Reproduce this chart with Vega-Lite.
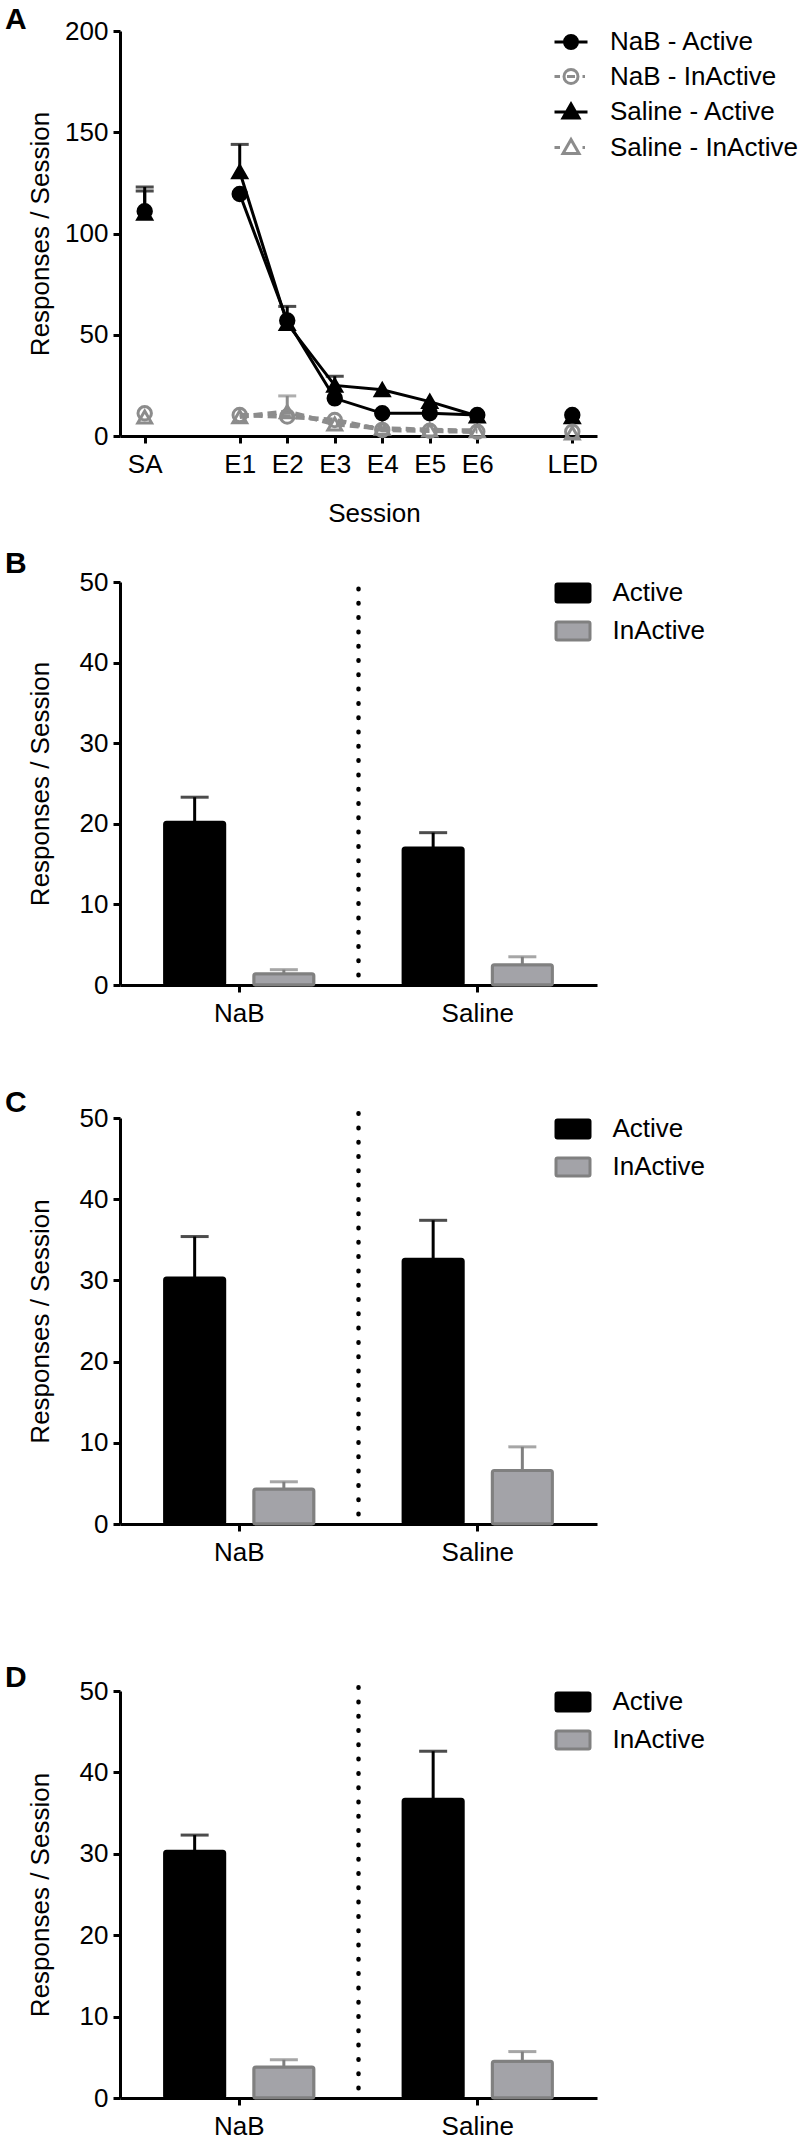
{
  "$schema": "https://vega.github.io/schema/vega-lite/v6.json",
  "padding": {"left": 5, "top": 5, "right": 0, "bottom": 0},
  "spacing": 23,
  "datasets": {
    "a": [
      {"session": "SA", "group": "NaB", "type": "InActive", "series": "NaB - InActive", "value": 11.2, "hi": null},
      {"session": "E1", "group": "NaB", "type": "InActive", "series": "NaB - InActive", "value": 10.4, "hi": null},
      {"session": "E2", "group": "NaB", "type": "InActive", "series": "NaB - InActive", "value": 9.6, "hi": null},
      {"session": "E3", "group": "NaB", "type": "InActive", "series": "NaB - InActive", "value": 7.9, "hi": null},
      {"session": "E4", "group": "NaB", "type": "InActive", "series": "NaB - InActive", "value": 3.0, "hi": null},
      {"session": "E5", "group": "NaB", "type": "InActive", "series": "NaB - InActive", "value": 2.6, "hi": null},
      {"session": "E6", "group": "NaB", "type": "InActive", "series": "NaB - InActive", "value": 2.1, "hi": null},
      {"session": "LED", "group": "NaB", "type": "InActive", "series": "NaB - InActive", "value": 2.1, "hi": null},
      {"session": "SA", "group": "Saline", "type": "InActive", "series": "Saline - InActive", "value": 9.4, "hi": null},
      {"session": "E1", "group": "Saline", "type": "InActive", "series": "Saline - InActive", "value": 9.5, "hi": null},
      {"session": "E2", "group": "Saline", "type": "InActive", "series": "Saline - InActive", "value": 12.0, "hi": 19.8},
      {"session": "E3", "group": "Saline", "type": "InActive", "series": "Saline - InActive", "value": 5.9, "hi": null},
      {"session": "E4", "group": "Saline", "type": "InActive", "series": "Saline - InActive", "value": 3.8, "hi": null},
      {"session": "E5", "group": "Saline", "type": "InActive", "series": "Saline - InActive", "value": 3.0, "hi": null},
      {"session": "E6", "group": "Saline", "type": "InActive", "series": "Saline - InActive", "value": 2.6, "hi": null},
      {"session": "LED", "group": "Saline", "type": "InActive", "series": "Saline - InActive", "value": 1.5, "hi": null},
      {"session": "SA", "group": "NaB", "type": "Active", "series": "NaB - Active", "value": 111, "hi": 123},
      {"session": "E1", "group": "NaB", "type": "Active", "series": "NaB - Active", "value": 119.5, "hi": null},
      {"session": "E2", "group": "NaB", "type": "Active", "series": "NaB - Active", "value": 57, "hi": null},
      {"session": "E3", "group": "NaB", "type": "Active", "series": "NaB - Active", "value": 18.6, "hi": null},
      {"session": "E4", "group": "NaB", "type": "Active", "series": "NaB - Active", "value": 11.2, "hi": null},
      {"session": "E5", "group": "NaB", "type": "Active", "series": "NaB - Active", "value": 11.2, "hi": null},
      {"session": "E6", "group": "NaB", "type": "Active", "series": "NaB - Active", "value": 10.4, "hi": null},
      {"session": "LED", "group": "NaB", "type": "Active", "series": "NaB - Active", "value": 10.4, "hi": null},
      {"session": "SA", "group": "Saline", "type": "Active", "series": "Saline - Active", "value": 110, "hi": 121},
      {"session": "E1", "group": "Saline", "type": "Active", "series": "Saline - Active", "value": 130.5, "hi": 144},
      {"session": "E2", "group": "Saline", "type": "Active", "series": "Saline - Active", "value": 55.5, "hi": 64},
      {"session": "E3", "group": "Saline", "type": "Active", "series": "Saline - Active", "value": 25, "hi": 29.5},
      {"session": "E4", "group": "Saline", "type": "Active", "series": "Saline - Active", "value": 22.8, "hi": null},
      {"session": "E5", "group": "Saline", "type": "Active", "series": "Saline - Active", "value": 17, "hi": null},
      {"session": "E6", "group": "Saline", "type": "Active", "series": "Saline - Active", "value": 9.9, "hi": null},
      {"session": "LED", "group": "Saline", "type": "Active", "series": "Saline - Active", "value": 9.5, "hi": null}
    ],
    "b": [
      {"group": "NaB", "type": "Active", "value": 20.2, "hi": 23.3},
      {"group": "NaB", "type": "InActive", "value": 1.4, "hi": 1.9},
      {"group": "Saline", "type": "Active", "value": 17.0, "hi": 18.9},
      {"group": "Saline", "type": "InActive", "value": 2.5, "hi": 3.5}
    ],
    "c": [
      {"group": "NaB", "type": "Active", "value": 30.3, "hi": 35.4},
      {"group": "NaB", "type": "InActive", "value": 4.3, "hi": 5.2},
      {"group": "Saline", "type": "Active", "value": 32.6, "hi": 37.4},
      {"group": "Saline", "type": "InActive", "value": 6.6, "hi": 9.5}
    ],
    "d": [
      {"group": "NaB", "type": "Active", "value": 30.3, "hi": 32.3},
      {"group": "NaB", "type": "InActive", "value": 3.8, "hi": 4.7},
      {"group": "Saline", "type": "Active", "value": 36.7, "hi": 42.6},
      {"group": "Saline", "type": "InActive", "value": 4.5, "hi": 5.7}
    ]
  },
  "vconcat": [
    {
      "title": {"text": "A", "offset": -17, "dx": -115},
      "width": 477,
      "height": 405,
      "data": {"name": "a"},
      "encoding": {
        "x": {
          "field": "session", "type": "ordinal",
          "scale": {"type": "point", "domain": ["SA", "gap1", "E1", "E2", "E3", "E4", "E5", "E6", "gap2", "LED"], "padding": 0.52},
          "axis": {"title": "Session", "titleX": 254, "titlePadding": 23, "values": ["SA", "E1", "E2", "E3", "E4", "E5", "E6", "LED"], "labelAngle": 0}
        },
        "y": {
          "field": "value", "type": "quantitative", "title": "Responses / Session",
          "scale": {"domain": [0, 200], "nice": false},
          "axis": {"values": [0, 50, 100, 150, 200], "titleX": -72, "titleBaseline": "alphabetic", "labelFlush": false}
        }
      },
      "layer": [
        {
          "transform": [{"filter": {"field": "session", "oneOf": ["E1", "E2", "E3", "E4", "E5", "E6"]}}, {"filter": "datum.type === 'InActive'"}],
          "mark": {"type": "line", "stroke": "#8c8c8c", "strokeWidth": 4.5, "strokeDash": [9, 5]},
          "encoding": {"detail": {"field": "group", "type": "nominal"}}
        },
        {
          "transform": [{"filter": {"field": "session", "oneOf": ["E1", "E2", "E3", "E4", "E5", "E6"]}}, {"filter": "datum.type === 'Active'"}],
          "mark": {"type": "line", "stroke": "black", "strokeWidth": 3},
          "encoding": {"detail": {"field": "group", "type": "nominal"}}
        },
        {
          "transform": [{"filter": "isValid(datum.hi)"}],
          "mark": {"type": "rule", "strokeWidth": 3},
          "encoding": {
            "y2": {"field": "hi"},
            "stroke": {"condition": {"test": "datum.type === 'Active'", "value": "black"}, "value": "#8c8c8c"}
          }
        },
        {
          "transform": [{"filter": "isValid(datum.hi)"}],
          "mark": {"type": "tick", "orient": "horizontal", "size": 18, "thickness": 3},
          "encoding": {
            "y": {"field": "hi", "type": "quantitative", "title": "Responses / Session"},
            "color": {"condition": {"test": "datum.type === 'Active'", "value": "black"}, "value": "#8c8c8c"}
          }
        },
        {
          "mark": {"type": "point", "size": 400, "strokeWidth": 3, "opacity": 0},
          "encoding": {
            "shape": {
              "field": "series", "type": "nominal",
              "scale": {"domain": ["NaB - Active", "NaB - InActive", "Saline - Active", "Saline - InActive"],
                "range": [
                  "M-1.65,0L1.65,0M-0.65,0A0.65,0.65,0,1,0,0.65,0A0.65,0.65,0,1,0,-0.65,0Z",
                  "M-1.65,0L-1.1,0M-0.4,0L0.4,0M1.15,0L1.4,0M-0.7,0A0.7,0.7,0,1,0,0.7,0A0.7,0.7,0,1,0,-0.7,0Z",
                  "M-1.65,0L1.65,0M0,-0.8L0.8,0.6L-0.8,0.6Z",
                  "M-1.65,0L-1.1,0M1.15,0L1.4,0M0,-0.8L0.8,0.6L-0.8,0.6Z"
                ]},
              "legend": {
                "title": null, "orient": "none", "legendX": 438, "legendY": -2,
                "symbolSize": 400, "symbolStrokeWidth": 3, "symbolOpacity": 1, "labelOffset": 26, "rowPadding": 8.5, "padding": 0,
                "labelFontSize": 26, "labelColor": "black", "labelLimit": 400
              }
            },
            "fill": {
              "field": "series", "type": "nominal",
              "scale": {"domain": ["NaB - Active", "NaB - InActive", "Saline - Active", "Saline - InActive"], "range": ["black", "transparent", "black", "transparent"]},
              "legend": null
            },
            "stroke": {
              "field": "series", "type": "nominal",
              "scale": {"domain": ["NaB - Active", "NaB - InActive", "Saline - Active", "Saline - InActive"], "range": ["black", "#8c8c8c", "black", "#8c8c8c"]},
              "legend": null
            }
          }
        },
        {
          "transform": [{"filter": "datum.group === 'Saline'"}],
          "mark": {"type": "point", "shape": "triangle-up", "size": 190, "strokeWidth": 3, "opacity": 1},
          "encoding": {
            "fill": {"condition": {"test": "datum.type === 'Active'", "value": "black"}, "value": "transparent"},
            "stroke": {"condition": {"test": "datum.type === 'Active'", "value": "black"}, "value": "#8c8c8c"}
          }
        },
        {
          "transform": [{"filter": "datum.group === 'NaB'"}],
          "mark": {"type": "point", "shape": "circle", "size": 180, "strokeWidth": 3, "opacity": 1},
          "encoding": {
            "fill": {"condition": {"test": "datum.type === 'Active'", "value": "black"}, "value": "transparent"},
            "stroke": {"condition": {"test": "datum.type === 'Active'", "value": "black"}, "value": "#8c8c8c"}
          }
        }
      ]
    },
    {
      "title": {"text": "B", "offset": -10, "dx": -115},
      "width": 477,
      "height": 403,
      "data": {"name": "b"},
      "encoding": {
        "x": {"field": "group", "type": "nominal", "scale": {"type": "band", "paddingInner": 0, "paddingOuter": 0}, "axis": {"title": " ", "titlePadding": 13, "labelAngle": 0}},
        "y": {"field": "value", "type": "quantitative", "title": "Responses / Session", "scale": {"domain": [0, 50], "nice": false}, "axis": {"values": [0, 10, 20, 30, 40, 50], "titleX": -72, "titleBaseline": "alphabetic", "labelFlush": false}}
      },
      "layer": [
        {
          "mark": {"type": "bar", "cornerRadius": 2, "strokeWidth": 3},
          "encoding": {
            "xOffset": {"field": "type", "type": "nominal", "scale": {"domain": ["Active", "InActive"], "paddingInner": 0.326, "paddingOuter": 0.5}},
            "fill": {"field": "type", "type": "nominal", "scale": {"domain": ["Active", "InActive"], "range": ["black", "#a3a3a8"]},
              "legend": {"title": null, "orient": "none", "legendX": 440, "legendY": -2, "symbolSize": 400, "symbolStrokeWidth": 3, "labelOffset": 26.5, "rowPadding": 8, "padding": 0, "labelFontSize": 26, "labelColor": "black",
                "symbolType": "M-1.55,-0.9L1.55,-0.9Q1.7,-0.9,1.7,-0.75L1.7,0.75Q1.7,0.9,1.55,0.9L-1.55,0.9Q-1.7,0.9,-1.7,0.75L-1.7,-0.75Q-1.7,-0.9,-1.55,-0.9Z"}},
            "stroke": {"field": "type", "type": "nominal", "scale": {"domain": ["Active", "InActive"], "range": ["black", "#808080"]}, "legend": null}
          }
        },
        {
          "mark": {"type": "rule", "strokeWidth": 3},
          "encoding": {
            "xOffset": {"field": "type", "type": "nominal", "scale": {"domain": ["Active", "InActive"], "paddingInner": 0.326, "paddingOuter": 0.5}},
            "y2": {"field": "hi"},
            "stroke": {"condition": {"test": "datum.type === 'Active'", "value": "black"}, "value": "#808080"}
          }
        },
        {
          "mark": {"type": "tick", "orient": "horizontal", "size": 28, "thickness": 3},
          "encoding": {
            "xOffset": {"field": "type", "type": "nominal", "scale": {"domain": ["Active", "InActive"], "paddingInner": 0.326, "paddingOuter": 0.5}},
            "y": {"field": "hi", "type": "quantitative", "title": "Responses / Session"},
            "color": {"condition": {"test": "datum.type === 'Active'", "value": "black"}, "value": "#808080"}
          }
        },
        {
          "transform": [{"filter": "datum.group === 'Saline' && datum.type === 'Active'"}],
          "mark": {"type": "rule", "strokeDash": [0.5, 13.8], "strokeCap": "round", "strokeWidth": 4.5, "stroke": "black", "opacity": 1},
          "encoding": {"x": {"field": "group", "type": "nominal", "bandPosition": 0}, "y": {"datum": 1.2}, "y2": {"datum": 50.6}}
        }
      ]
    },
    {
      "title": {"text": "C", "offset": -13, "dx": -115},
      "width": 477,
      "height": 406,
      "data": {"name": "c"},
      "encoding": {
        "x": {"field": "group", "type": "nominal", "scale": {"type": "band", "paddingInner": 0, "paddingOuter": 0}, "axis": {"title": " ", "titlePadding": 49, "labelAngle": 0}},
        "y": {"field": "value", "type": "quantitative", "title": "Responses / Session", "scale": {"domain": [0, 50], "nice": false}, "axis": {"values": [0, 10, 20, 30, 40, 50], "titleX": -72, "titleBaseline": "alphabetic", "labelFlush": false}}
      },
      "layer": [
        {
          "mark": {"type": "bar", "cornerRadius": 2, "strokeWidth": 3},
          "encoding": {
            "xOffset": {"field": "type", "type": "nominal", "scale": {"domain": ["Active", "InActive"], "paddingInner": 0.326, "paddingOuter": 0.5}},
            "fill": {"field": "type", "type": "nominal", "scale": {"domain": ["Active", "InActive"], "range": ["black", "#a3a3a8"]},
              "legend": {"title": null, "orient": "none", "legendX": 440, "legendY": -2, "symbolSize": 400, "symbolStrokeWidth": 3, "labelOffset": 26.5, "rowPadding": 8, "padding": 0, "labelFontSize": 26, "labelColor": "black",
                "symbolType": "M-1.55,-0.9L1.55,-0.9Q1.7,-0.9,1.7,-0.75L1.7,0.75Q1.7,0.9,1.55,0.9L-1.55,0.9Q-1.7,0.9,-1.7,0.75L-1.7,-0.75Q-1.7,-0.9,-1.55,-0.9Z"}},
            "stroke": {"field": "type", "type": "nominal", "scale": {"domain": ["Active", "InActive"], "range": ["black", "#808080"]}, "legend": null}
          }
        },
        {
          "mark": {"type": "rule", "strokeWidth": 3},
          "encoding": {
            "xOffset": {"field": "type", "type": "nominal", "scale": {"domain": ["Active", "InActive"], "paddingInner": 0.326, "paddingOuter": 0.5}},
            "y2": {"field": "hi"},
            "stroke": {"condition": {"test": "datum.type === 'Active'", "value": "black"}, "value": "#808080"}
          }
        },
        {
          "mark": {"type": "tick", "orient": "horizontal", "size": 28, "thickness": 3},
          "encoding": {
            "xOffset": {"field": "type", "type": "nominal", "scale": {"domain": ["Active", "InActive"], "paddingInner": 0.326, "paddingOuter": 0.5}},
            "y": {"field": "hi", "type": "quantitative", "title": "Responses / Session"},
            "color": {"condition": {"test": "datum.type === 'Active'", "value": "black"}, "value": "#808080"}
          }
        },
        {
          "transform": [{"filter": "datum.group === 'Saline' && datum.type === 'Active'"}],
          "mark": {"type": "rule", "strokeDash": [0.5, 13.8], "strokeCap": "round", "strokeWidth": 4.5, "stroke": "black", "opacity": 1},
          "encoding": {"x": {"field": "group", "type": "nominal", "bandPosition": 0}, "y": {"datum": 1.2}, "y2": {"datum": 50.6}}
        }
      ]
    },
    {
      "title": {"text": "D", "offset": -15, "dx": -115},
      "width": 477,
      "height": 407,
      "data": {"name": "d"},
      "encoding": {
        "x": {"field": "group", "type": "nominal", "scale": {"type": "band", "paddingInner": 0, "paddingOuter": 0}, "axis": {"title": null, "labelAngle": 0}},
        "y": {"field": "value", "type": "quantitative", "title": "Responses / Session", "scale": {"domain": [0, 50], "nice": false}, "axis": {"values": [0, 10, 20, 30, 40, 50], "titleX": -72, "titleBaseline": "alphabetic", "labelFlush": false}}
      },
      "layer": [
        {
          "mark": {"type": "bar", "cornerRadius": 2, "strokeWidth": 3},
          "encoding": {
            "xOffset": {"field": "type", "type": "nominal", "scale": {"domain": ["Active", "InActive"], "paddingInner": 0.326, "paddingOuter": 0.5}},
            "fill": {"field": "type", "type": "nominal", "scale": {"domain": ["Active", "InActive"], "range": ["black", "#a3a3a8"]},
              "legend": {"title": null, "orient": "none", "legendX": 440, "legendY": -2, "symbolSize": 400, "symbolStrokeWidth": 3, "labelOffset": 26.5, "rowPadding": 8, "padding": 0, "labelFontSize": 26, "labelColor": "black",
                "symbolType": "M-1.55,-0.9L1.55,-0.9Q1.7,-0.9,1.7,-0.75L1.7,0.75Q1.7,0.9,1.55,0.9L-1.55,0.9Q-1.7,0.9,-1.7,0.75L-1.7,-0.75Q-1.7,-0.9,-1.55,-0.9Z"}},
            "stroke": {"field": "type", "type": "nominal", "scale": {"domain": ["Active", "InActive"], "range": ["black", "#808080"]}, "legend": null}
          }
        },
        {
          "mark": {"type": "rule", "strokeWidth": 3},
          "encoding": {
            "xOffset": {"field": "type", "type": "nominal", "scale": {"domain": ["Active", "InActive"], "paddingInner": 0.326, "paddingOuter": 0.5}},
            "y2": {"field": "hi"},
            "stroke": {"condition": {"test": "datum.type === 'Active'", "value": "black"}, "value": "#808080"}
          }
        },
        {
          "mark": {"type": "tick", "orient": "horizontal", "size": 28, "thickness": 3},
          "encoding": {
            "xOffset": {"field": "type", "type": "nominal", "scale": {"domain": ["Active", "InActive"], "paddingInner": 0.326, "paddingOuter": 0.5}},
            "y": {"field": "hi", "type": "quantitative", "title": "Responses / Session"},
            "color": {"condition": {"test": "datum.type === 'Active'", "value": "black"}, "value": "#808080"}
          }
        },
        {
          "transform": [{"filter": "datum.group === 'Saline' && datum.type === 'Active'"}],
          "mark": {"type": "rule", "strokeDash": [0.5, 13.8], "strokeCap": "round", "strokeWidth": 4.5, "stroke": "black", "opacity": 1},
          "encoding": {"x": {"field": "group", "type": "nominal", "bandPosition": 0}, "y": {"datum": 1.2}, "y2": {"datum": 50.6}}
        }
      ]
    }
  ],
  "resolve": {
    "scale": {"x": "independent", "y": "independent", "fill": "independent", "stroke": "independent", "shape": "independent", "xOffset": "independent"},
    "legend": {"fill": "independent", "shape": "independent", "stroke": "independent"},
    "axis": {"x": "independent", "y": "independent"}
  },
  "config": {
    "font": "Liberation Sans, Arial, sans-serif",
    "view": {"stroke": null},
    "axis": {
      "domainColor": "black", "domainWidth": 3, "tickColor": "black", "tickWidth": 3, "tickSize": 7,
      "labelColor": "black", "labelFontSize": 26, "titleColor": "black", "titleFontSize": 26, "titleFontWeight": "normal",
      "grid": false, "labelOverlap": false
    },
    "axisX": {"labelPadding": 8},
    "axisY": {"labelPadding": 5},
    "title": {"fontSize": 30, "fontWeight": "bold", "anchor": "start", "frame": "group", "color": "black"}
  }
}
